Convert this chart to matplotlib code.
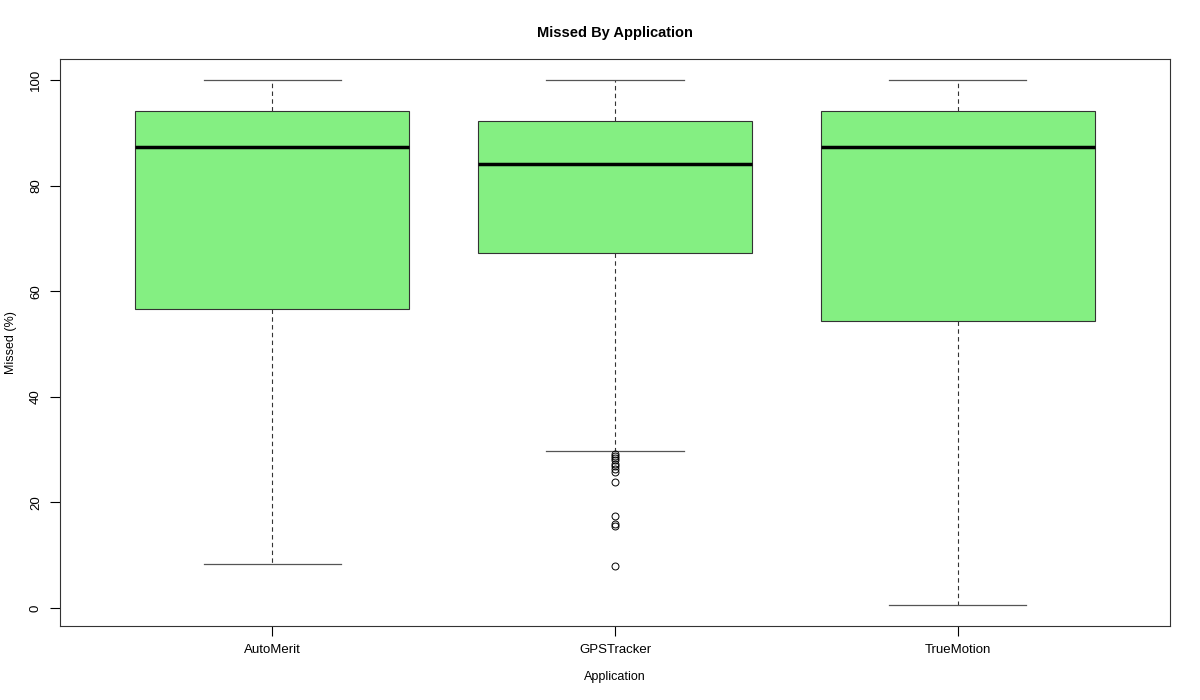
import matplotlib
matplotlib.use("Agg")
import matplotlib.pyplot as plt

plt.rcParams['font.family'] = ['Liberation Sans', 'DejaVu Sans']

apps = ["AutoMerit", "GPSTracker", "TrueMotion"]
whislo = [8.3, 29.7, 0.6]
q1 = [56.6, 67.2, 54.4]
med = [87.3, 84.1, 87.3]
q3 = [94.1, 92.2, 94.1]
whishi = [100.0, 100.0, 100.0]
outliers = [
    [],
    [29.2, 28.8, 28.4, 28.0, 27.3, 26.9, 26.3, 25.8, 23.9, 17.4, 15.9, 15.5, 8.0],
    [],
]
y_ticks = [0, 20, 40, 60, 80, 100]

stats = []
for i, name in enumerate(apps):
    stats.append(dict(label=name, whislo=whislo[i], q1=q1[i], med=med[i],
                      q3=q3[i], whishi=whishi[i], fliers=outliers[i]))

fig = plt.figure(figsize=(12, 7), dpi=100)
ax = fig.add_axes([0.05, 0.1057, 0.925, 0.81])

positions = list(range(1, len(apps) + 1))
bp = ax.bxp(stats, positions=positions, widths=0.8, patch_artist=True,
            boxprops=dict(facecolor="#84EF82", edgecolor="#333333", linewidth=0.8),
            medianprops=dict(color="black", linewidth=2.5),
            whiskerprops=dict(color="#333333", linewidth=0.8, linestyle=(0, (4, 3))),
            capprops=dict(color="#555555", linewidth=0.9),
            capwidths=0.4,
            flierprops=dict(marker="o", markerfacecolor="none", markeredgecolor="black",
                            markersize=5, markeredgewidth=0.7))

ax.set_xlim(0.38, 3.62)
ax.set_ylim(-3.4, 104.0)
ax.set_yticks(y_ticks)
ax.set_yticklabels([str(t) for t in y_ticks], rotation=90, va="center")
ax.set_xticks(positions)
ax.set_xticklabels(apps)
ax.tick_params(axis="both", direction="out", length=7, width=0.8, labelsize=9.5, pad=6)
for s in ax.spines.values():
    s.set_linewidth(0.8)
    s.set_color("#333333")

ax.set_title("Missed By Application", fontsize=10.5, fontweight="bold", pad=16)
ax.set_xlabel("Application", fontsize=9, labelpad=11)
ax.set_ylabel("Missed (%)", fontsize=9, labelpad=9)

fig.savefig("out.png", dpi=100)
